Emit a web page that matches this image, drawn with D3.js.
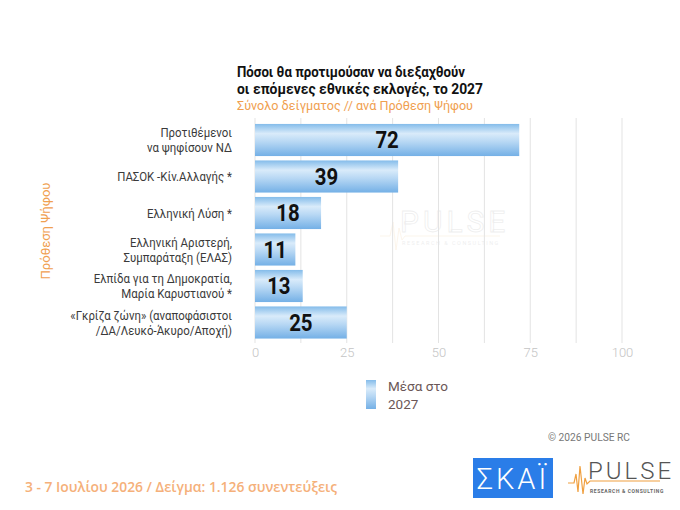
<!DOCTYPE html>
<html><head><meta charset="utf-8">
<script src="https://cdn.jsdelivr.net/npm/d3@7/dist/d3.min.js"></script>
<style>html,body{margin:0;padding:0;background:#fff;}svg{display:block;font-family:Roboto,"Noto Sans",sans-serif;}</style>
</head><body>
<script>
const categories = [
  ["Προτιθέμενοι","να ψηφίσουν ΝΔ"],
  ["ΠΑΣΟΚ -Κίν.Αλλαγής *"],
  ["Ελληνική Λύση *"],
  ["Ελληνική Αριστερή,","Συμπαράταξη (ΕΛΑΣ)"],
  ["Ελπίδα για τη Δημοκρατία,","Μαρία Καρυστιανού *"],
  ["«Γκρίζα ζώνη» (αναποφάσιστοι","/ΔΑ/Λευκό-Άκυρο/Αποχή)"]
];
const values = [72, 39, 18, 11, 13, 25];
const xTicks = [0, 25, 50, 75, 100];
const gridTicks = [0, 12.5, 25, 37.5, 50, 62.5, 75, 87.5, 100];
const seriesName = ["Μέσα στο", "2027"];
const titleLines = ["Πόσοι θα προτιμούσαν να διεξαχθούν", "οι επόμενες εθνικές εκλογές, το 2027"];
const subtitle = "Σύνολο δείγματος // ανά Πρόθεση Ψήφου";
const yTitle = "Πρόθεση Ψήφου";
const footer = "3 - 7  Ιουλίου 2026  /  Δείγμα:  1.126 συνεντεύξεις";
const copyright = "©  2026  PULSE RC";

const W = 680, H = 510;
const svg = d3.select("body").append("svg").attr("width", W).attr("height", H);
const defs = svg.append("defs");
const g1 = defs.append("linearGradient").attr("id","barg").attr("x1",0).attr("y1",0).attr("x2",0).attr("y2",1);
[[0,"#84bcea"],[0.3,"#d9ebfa"],[0.55,"#b8d8f4"],[1,"#74b0e6"]].forEach(s=>g1.append("stop").attr("offset",s[0]).attr("stop-color",s[1]));

const x = d3.scaleLinear().domain([0,100]).range([255,622]);
const y = d3.scaleBand().domain(d3.range(categories.length)).range([121.75,340.75]).paddingInner(0.12).paddingOuter(0.06);

// watermark
const wm = svg.append("g").attr("opacity",0.12);
wm.append("text").attr("x",400).attr("y",232).attr("font-size",30).attr("fill","none").attr("stroke","#777").attr("stroke-width",0.8).attr("letter-spacing",4).text("PULSE");
wm.append("text").attr("x",402).attr("y",245).attr("font-size",5.5).attr("fill","#777").attr("letter-spacing",1.5).text("RESEARCH & CONSULTING");
wm.append("path").attr("d","M380,236 L390,236 L393,222 L396,250 L399,228 L402,240 L405,236 L500,236").attr("fill","none").attr("stroke","#e8a040").attr("stroke-width",0.8);

// grid
svg.append("g").selectAll("line").data(gridTicks).join("line")
  .attr("x1",d=>x(d)).attr("x2",d=>x(d)).attr("y1",118).attr("y2",343)
  .attr("stroke","#e3e3e3").attr("stroke-width",1);

// x axis labels
const xa = svg.append("g").attr("transform","translate(0,343)")
  .call(d3.axisBottom(x).tickValues(xTicks).tickSize(0).tickPadding(5));
xa.select(".domain").remove();
xa.selectAll("text").attr("font-size",13).attr("fill","#c4c4c4").attr("font-family","Roboto").attr("font-weight",300);

// bars
svg.append("g").selectAll("rect").data(values).join("rect")
  .attr("x",x(0)).attr("y",(d,i)=>y(i)).attr("width",d=>x(d)-x(0)).attr("height",y.bandwidth())
  .attr("fill","url(#barg)");

// value labels
svg.append("g").selectAll("text").data(values).join("text")
  .attr("x",d=>(x(0)+x(d))/2).attr("y",(d,i)=>y(i)+y.bandwidth()/2+8.5)
  .attr("text-anchor","middle").attr("font-size",24).attr("font-weight",700).attr("fill","#111")
  .attr("transform",(d,i)=>{const cx=(x(0)+x(d))/2;return `translate(${cx},0) scale(0.85,1) translate(${-cx},0)`;})
  .text(d=>d);

// category labels (condensed)
const cl = svg.append("g").attr("transform","translate(232,0) scale(0.88,1) translate(-232,0)");
categories.forEach((lines,i)=>{
  const cy = y(i)+y.bandwidth()/2;
  const n = lines.length;
  lines.forEach((ln,j)=>{
    cl.append("text").attr("x",232).attr("y",cy + (j-(n-1)/2)*15 + 5)
      .attr("text-anchor","end").attr("font-size",13).attr("fill","#3a3a3a").text(ln);
  });
});

// y title
svg.append("text").attr("transform","translate(50,231) rotate(-90)").attr("text-anchor","middle")
  .attr("font-size",13).attr("fill","#f0a050").attr("textLength",97).attr("lengthAdjust","spacingAndGlyphs").text(yTitle);

// title
titleLines.forEach((t,i)=>{
  svg.append("text").attr("x",237).attr("y",77+i*17).attr("font-size",14.5).attr("font-weight",700).attr("fill","#111")
    .attr("textLength", i===0?228:246).attr("lengthAdjust","spacingAndGlyphs").text(t);
});
svg.append("text").attr("x",237).attr("y",110).attr("font-size",13.5).attr("fill","#f0a050")
  .attr("textLength",236).attr("lengthAdjust","spacingAndGlyphs").text(subtitle);

// legend
svg.append("rect").attr("x",366).attr("y",380).attr("width",10).attr("height",29).attr("fill","url(#barg)");
seriesName.forEach((t,i)=>{
  svg.append("text").attr("x",388).attr("y",391+i*18).attr("font-size",13.5).attr("fill","#6b5757").text(t);
});

// copyright
svg.append("text").attr("x",548).attr("y",441).attr("font-size",11).attr("fill","#777")
  .attr("textLength",82).attr("lengthAdjust","spacingAndGlyphs").text(copyright);

// footer
svg.append("text").attr("x",25).attr("y",492).attr("font-size",13.5).attr("font-weight",600).attr("fill","#f5b07a")
  .attr("font-family","'Open Sans',sans-serif").attr("textLength",312).attr("lengthAdjust","spacingAndGlyphs").text(footer);

// SKAI logo
svg.append("rect").attr("x",473).attr("y",458).attr("width",80).attr("height",40).attr("fill","#2a7de8");
svg.append("text").attr("x",513).attr("y",489).attr("text-anchor","middle").attr("font-size",29).attr("font-weight",300)
  .attr("fill","#fff").attr("letter-spacing",3).text("ΣΚΑΪ");

// PULSE logo
const pl = svg.append("g");
pl.append("path").attr("d","M568,483 L574,483 L576,474 L578,492 L580,466 L583,494 L585,478 L587,484 L590,481 L660,481")
  .attr("fill","none").attr("stroke","#f0a040").attr("stroke-width",1.2);
pl.append("text").attr("x",588).attr("y",479).attr("font-size",24).attr("font-weight",300).attr("fill","#555")
  .attr("letter-spacing",3).text("PULSE");
pl.append("text").attr("x",590).attr("y",493).attr("font-size",5).attr("font-weight",700).attr("fill","#666")
  .attr("letter-spacing",0.6).text("RESEARCH & CONSULTING");
</script>
</body></html>
